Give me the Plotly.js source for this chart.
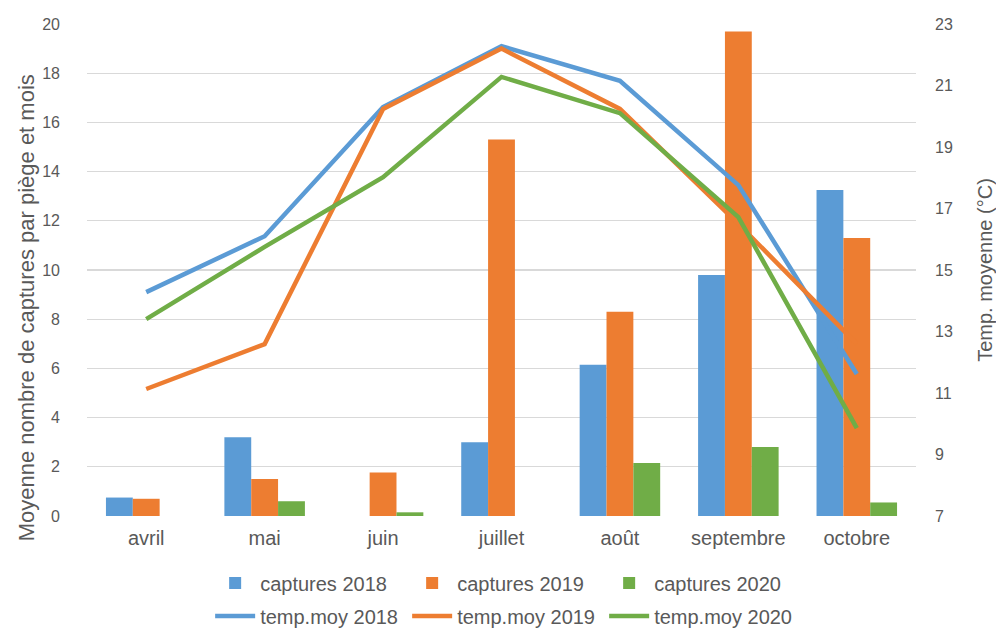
<!DOCTYPE html>
<html>
<head>
<meta charset="utf-8">
<script src="https://cdn.plot.ly/plotly-3.0.1.min.js"></script>
<style>html,body{margin:0;padding:0;background:#fff;}#chart{width:996px;height:630px;}</style>
</head>
<body>
<div id="chart"></div>
<script>
var months = ["avril", "mai", "juin", "juillet", "août", "septembre", "octobre"];

var captures2018 = [0.75, 3.2, 0, 3.0, 6.15, 9.8, 13.25];
var captures2019 = [0.7, 1.5, 1.77, 15.3, 8.3, 19.7, 11.3];
var captures2020 = [0, 0.6, 0.15, 0, 2.15, 2.8, 0.55];

var temp2018 = [14.28, 16.1, 20.3, 22.28, 21.15, 17.76, 11.62];
var temp2019 = [11.13, 12.59, 20.24, 22.2, 20.24, 16.5, 12.6];
var temp2020 = [13.4, 15.75, 18.02, 21.28, 20.1, 16.72, 9.86];

var leftTicks = [0, 2, 4, 6, 8, 10, 12, 14, 16, 18, 20];
var rightTicks = [7, 9, 11, 13, 15, 17, 19, 21, 23];

var BLUE = "#5B9BD5", ORANGE = "#ED7D31", GREEN = "#70AD47";
var TXT = "#595959";
var FONT = "Liberation Sans, Arial, sans-serif";

function bar(name, y, color) {
  return {type: "bar", name: name, x: months, y: y, marker: {color: color},
          legend: "legend", hoverinfo: "y"};
}
function line(name, y, color) {
  return {type: "scatter", mode: "lines", name: name, x: months, y: y, yaxis: "y2",
          line: {color: color, width: 4.5}, legend: "legend2", hoverinfo: "y"};
}

var data = [
  bar("captures 2018", captures2018, BLUE),
  bar("captures 2019", captures2019, ORANGE),
  bar("captures 2020", captures2020, GREEN),
  line("temp.moy 2018", temp2018, BLUE),
  line("temp.moy 2019", temp2019, ORANGE),
  line("temp.moy 2020", temp2020, GREEN)
];

var layout = {
  width: 996, height: 630,
  margin: {l: 87, r: 80, t: 24, b: 114, autoexpand: false},
  paper_bgcolor: "#fff", plot_bgcolor: "#fff",
  font: {family: FONT, color: TXT, size: 16},
  barmode: "group", bargap: 0.32, bargroupgap: 0,
  showlegend: true,
  xaxis: {
    type: "category", tickfont: {size: 20, color: TXT}, ticks: "",
    showgrid: false, zeroline: false, showline: false, ticklabelstandoff: 8
  },
  yaxis: {
    range: [0, 20], tickvals: leftTicks, ticks: "", showgrid: true,
    gridcolor: "#D9D9D9", gridwidth: 1.3, zeroline: false, showline: false,
    tickfont: {size: 16, color: TXT}, ticklabelstandoff: 26
  },
  yaxis2: {
    range: [7, 23], tickvals: rightTicks, overlaying: "y", side: "right",
    showgrid: false, zeroline: false, showline: false, ticks: "",
    tickfont: {size: 16, color: TXT}, ticklabelstandoff: 18,
    title: {text: "Temp. moyenne (°C)", font: {size: 20, color: TXT}, standoff: 26}
  },
  annotations: [{
    text: "Moyenne nombre de captures par piège et mois",
    xref: "paper", yref: "paper", x: -0.073, y: 0.423,
    xanchor: "center", yanchor: "middle", textangle: -90, showarrow: false,
    font: {size: 22, color: TXT}
  }],
  legend: {
    orientation: "h", x: 0.505, xanchor: "center", y: -0.136, yanchor: "middle",
    font: {size: 20, color: TXT}, entrywidth: 142, itemwidth: 40,
    bgcolor: "rgba(0,0,0,0)", traceorder: "normal"
  },
  legend2: {
    orientation: "h", x: 0.505, xanchor: "center", y: -0.203, yanchor: "middle",
    font: {size: 20, color: TXT}, entrywidth: 142, itemwidth: 40,
    bgcolor: "rgba(0,0,0,0)", traceorder: "normal"
  }
};

Plotly.newPlot("chart", data, layout, {displayModeBar: false, staticPlot: true});
</script>
</body>
</html>
